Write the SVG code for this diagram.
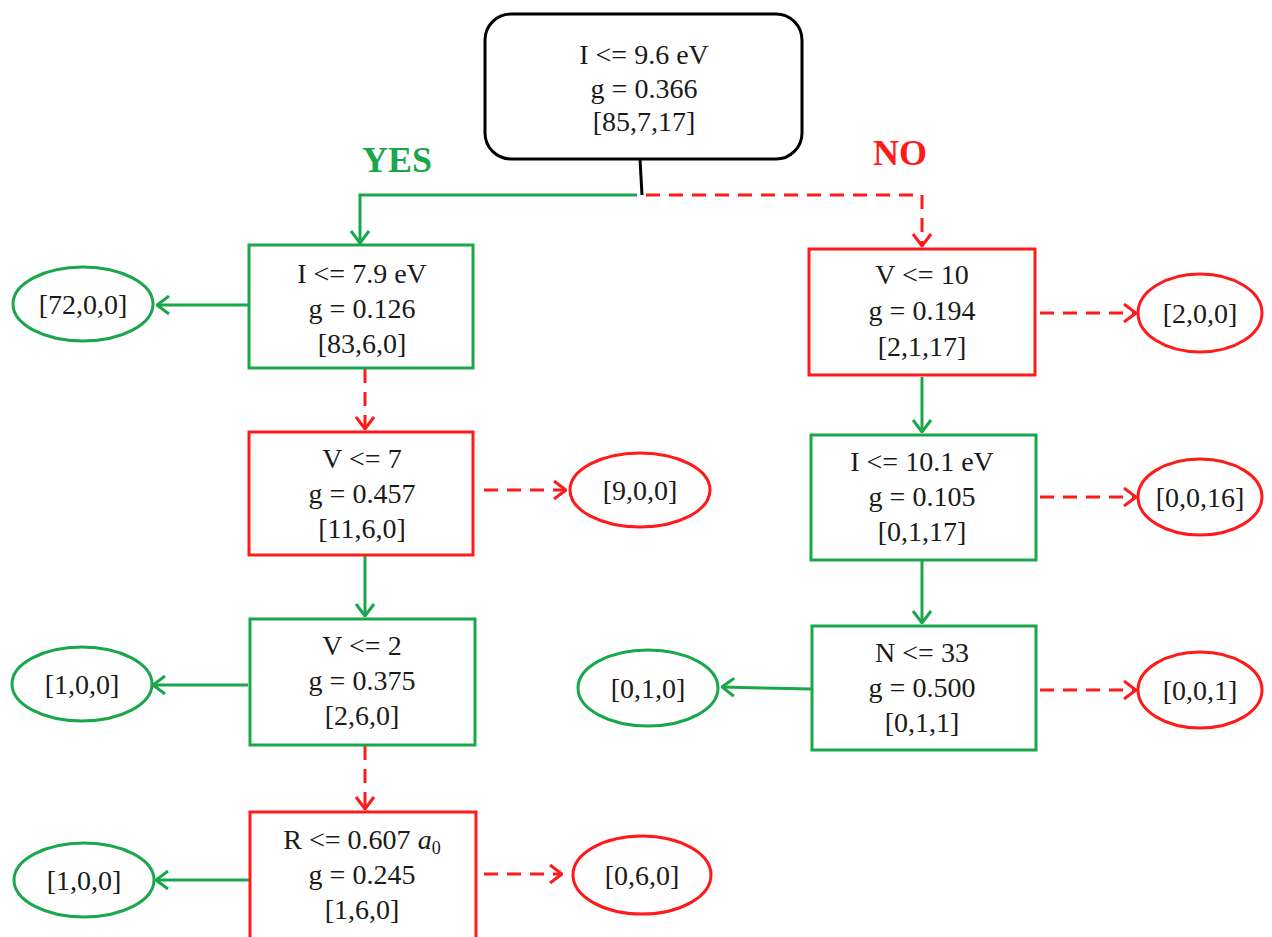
<svg xmlns="http://www.w3.org/2000/svg" width="1272" height="937" viewBox="0 0 1272 937">
<style>
text{font-family:"Liberation Serif","Times New Roman",serif;font-size:28px;fill:#1a1a1a;text-anchor:middle}
.lbl{font-weight:bold;font-size:36px}
.g{stroke:#1aa64a;stroke-width:3;fill:#fff}
.r{stroke:#ff1a1a;stroke-width:3;fill:#fff}
.cg{stroke:#1aa64a;stroke-width:3;fill:none}
.cr{stroke:#ff1a1a;stroke-width:3;fill:none;stroke-dasharray:14 9}
</style>
<defs>
<marker id="ag" viewBox="0 0 14 20" refX="13" refY="10" markerWidth="14" markerHeight="20" markerUnits="userSpaceOnUse" orient="auto">
<path d="M1,1 L13,10 L1,19" fill="none" stroke="#1aa64a" stroke-width="3"/>
</marker>
<marker id="ar" viewBox="0 0 14 20" refX="13" refY="10" markerWidth="14" markerHeight="20" markerUnits="userSpaceOnUse" orient="auto">
<path d="M1,1 L13,10 L1,19" fill="none" stroke="#ff1a1a" stroke-width="3"/>
</marker>
</defs>
<rect width="1272" height="937" fill="#fff"/>
<g id="connectors">
<path d="M640,159 L642,195" stroke="#000" stroke-width="3" fill="none"/>
<path class="cg" d="M637,195 L360,195 L360,243" marker-end="url(#ag)"/>
<path class="cr" d="M646,195 L922,195 L922,246" marker-end="url(#ar)"/>
<path class="cg" d="M248,305 L157,305" marker-end="url(#ag)"/>
<path class="cr" d="M365,369 L365,429" marker-end="url(#ar)"/>
<path class="cr" d="M484,490 L566,490" marker-end="url(#ar)"/>
<path class="cg" d="M365,556 L365,616" marker-end="url(#ag)"/>
<path class="cg" d="M248,685 L153,685" marker-end="url(#ag)"/>
<path class="cr" d="M365,746 L365,809" marker-end="url(#ar)"/>
<path class="cg" d="M250,880 L156,880" marker-end="url(#ag)"/>
<path class="cr" d="M484,874 L562,874" marker-end="url(#ar)"/>
<path class="cr" d="M1040,313 L1136,313" marker-end="url(#ar)"/>
<path class="cg" d="M922,377 L922,432" marker-end="url(#ag)"/>
<path class="cr" d="M1040,497 L1136,497" marker-end="url(#ar)"/>
<path class="cg" d="M922,561 L922,623" marker-end="url(#ag)"/>
<path class="cg" d="M812,689 L722,687" marker-end="url(#ag)"/>
<path class="cr" d="M1040,690 L1136,690" marker-end="url(#ar)"/>
</g>
<g id="labels">
<text class="lbl" x="397" y="172" style="fill:#1aa64a">YES</text>
<text class="lbl" x="900" y="165" style="fill:#ff1a1a">NO</text>
</g>
<g id="root">
<rect x="485" y="14" width="317" height="145" rx="26" fill="#fff" stroke="#000" stroke-width="3"/>
<text x="644" y="64">I &lt;= 9.6 eV</text>
<text x="644" y="98">g = 0.366</text>
<text x="644" y="131">[85,7,17]</text>
</g>
<g id="n1">
<rect class="g" x="249" y="245" width="224" height="123"/>
<text x="362" y="283">I &lt;= 7.9 eV</text>
<text x="362" y="318">g = 0.126</text>
<text x="362" y="353">[83,6,0]</text>
</g>
<g id="l1">
<ellipse class="g" cx="83" cy="304" rx="70" ry="37"/>
<text x="83" y="314">[72,0,0]</text>
</g>
<g id="n2">
<rect class="r" x="249" y="432" width="224" height="123"/>
<text x="362" y="468">V &lt;= 7</text>
<text x="362" y="503">g = 0.457</text>
<text x="362" y="538">[11,6,0]</text>
</g>
<g id="l2">
<ellipse class="r" cx="640" cy="490" rx="70" ry="37"/>
<text x="640" y="500">[9,0,0]</text>
</g>
<g id="n3">
<rect class="g" x="250" y="619" width="225" height="126"/>
<text x="362" y="655">V &lt;= 2</text>
<text x="362" y="690">g = 0.375</text>
<text x="362" y="725">[2,6,0]</text>
</g>
<g id="l3">
<ellipse class="g" cx="82" cy="684" rx="70" ry="37"/>
<text x="82" y="694">[1,0,0]</text>
</g>
<g id="n4">
<rect class="r" x="250" y="812" width="226" height="135"/>
<text x="362" y="849">R &lt;= 0.607 <tspan font-style="italic">a</tspan><tspan font-size="18" dy="5">0</tspan></text>
<text x="362" y="884">g = 0.245</text>
<text x="362" y="919">[1,6,0]</text>
</g>
<g id="l4">
<ellipse class="g" cx="84" cy="880" rx="70" ry="37"/>
<text x="84" y="890">[1,0,0]</text>
</g>
<g id="l5">
<ellipse class="r" cx="642" cy="875" rx="69" ry="39"/>
<text x="642" y="885">[0,6,0]</text>
</g>
<g id="n5">
<rect class="r" x="809" y="249" width="226" height="126"/>
<text x="922" y="284">V &lt;= 10</text>
<text x="922" y="320">g = 0.194</text>
<text x="922" y="356">[2,1,17]</text>
</g>
<g id="l6">
<ellipse class="r" cx="1200" cy="313" rx="62" ry="39"/>
<text x="1200" y="323">[2,0,0]</text>
</g>
<g id="n6">
<rect class="g" x="811" y="435" width="225" height="125"/>
<text x="922" y="471">I &lt;= 10.1 eV</text>
<text x="922" y="506">g = 0.105</text>
<text x="922" y="541">[0,1,17]</text>
</g>
<g id="l7">
<ellipse class="r" cx="1200" cy="497" rx="62" ry="38"/>
<text x="1200" y="507">[0,0,16]</text>
</g>
<g id="n7">
<rect class="g" x="812" y="626" width="224" height="124"/>
<text x="922" y="662">N &lt;= 33</text>
<text x="922" y="697">g = 0.500</text>
<text x="922" y="732">[0,1,1]</text>
</g>
<g id="l8">
<ellipse class="g" cx="648" cy="688" rx="70" ry="38"/>
<text x="648" y="698">[0,1,0]</text>
</g>
<g id="l9">
<ellipse class="r" cx="1200" cy="690" rx="62" ry="38"/>
<text x="1200" y="700">[0,0,1]</text>
</g>
</svg>
